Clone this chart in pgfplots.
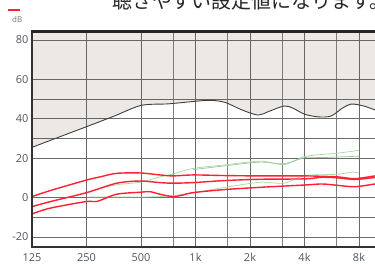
\documentclass[border=0pt]{standalone}
\usepackage{pgfplots}
\pgfplotsset{compat=1.18}
\usepackage{fontspec}
\setmainfont{Open Sans}
\newfontfamily\jp{Noto Sans CJK JP}
\definecolor{fillbase}{RGB}{97,72,55}
\definecolor{rd}{HTML}{FF2036}
\definecolor{gr}{HTML}{A6D8A2}
\definecolor{gridc}{HTML}{6A6A6A}
\definecolor{lbl}{HTML}{505560}
\begin{document}
\begin{tikzpicture}
\fill[white] (0,0) rectangle (375bp,264bp);
% frame grid (octaves, half-octaves above 500 Hz, 10/20 dB lines)
\foreach \gx in {86.5,141,195.5,250,304.5,359}
  \draw[gridc, line width=0.8bp] (\gx bp,17bp) -- (\gx bp,233bp);
\foreach \gx in {172.9,227.4,281.9,336.4}
  \draw[gridc!85, line width=0.7bp] (\gx bp,17bp) -- (\gx bp,233bp);
\foreach \gy in {223.9,184.6,164.9,145.2,125.5,105.8,66.4,46.7,27.0}
  \draw[gridc, line width=0.8bp] (32bp,\gy bp) -- (382bp,\gy bp);
\begin{axis}[
  at={(32bp,17bp)}, anchor=south west,
  scale only axis, width=350bp, height=216bp,
  xmin=0, xmax=6.422, ymin=-25.1, ymax=84.6,
  xtick={0,1,2,3,4,5,6},
  xticklabels={125,250,500,1k,2k,4k,8k},
  ytick={-20,0,20,40,60,80},
  major tick length=0pt, minor tick length=0pt,
  axis line style={line width=1.8bp, black!80},
  ticklabel style={font=\fontsize{11}{12}\selectfont, text=lbl},
  xticklabel style={yshift=-3bp},
  /pgf/number format/assume math mode=true,
]
% octave index x = log2(f/125); shaded region above the black curve
\addplot[fill=fillbase, fill opacity=0.12, draw=none] coordinates {
(0,84.6) (0,25.5) (0.502,30.8) (1,36.0) (1.5,41.3) (2,46.8) (2.25,47.4) (2.5,47.6) (2.75,48.2) (3,48.9)
(3.263,49.4) (3.536,48.4) (3.7,46.6) (3.853,44.5) (4.0,42.8) (4.147,41.9) (4.331,43.6) (4.48,45.6) (4.624,46.5)
(4.789,45.4) (4.9,43.8) (4.996,42.4) (5.12,41.4) (5.248,41.0) (5.485,41.4) (5.6,43.2) (5.700,45.5) (5.858,47.5)
(6.087,46.5) (6.294,44.5) (6.422,43.5) (6.422,84.6)};
\addplot[draw=black!75, line width=0.9bp, smooth] coordinates {
(0,25.5) (0.502,30.8) (1,36.0) (1.5,41.3) (2,46.8) (2.5,47.6) (3,48.9)
(3.263,49.4) (3.536,48.4) (3.853,44.5) (4.147,41.9) (4.331,43.6) (4.624,46.5)
(4.789,45.4) (4.996,42.4) (5.248,41.0) (5.485,41.4) (5.700,45.5) (5.858,47.5)
(6.087,46.5) (6.294,44.5) (6.422,43.5)};
% green series
\addplot[gr, line width=0.7bp, smooth] coordinates {
(1,2.5) (1.189,4.2) (1.554,6.5) (1.980,7.8) (2.349,10.5) (2.585,12) (2.954,14.8)
(3.504,16.5) (4.183,18.5) (4.624,16.8) (5.013,20.9) (5.585,22.5) (6,24)};
\addplot[gr!80!gray, line width=0.7bp, smooth] coordinates {
(2.954,14.2) (3.504,16) (4.183,18) (4.624,17.2) (5.013,20.3) (5.322,20.3) (5.585,20.6) (6,21)};
\addplot[gr, line width=0.7bp, smooth] coordinates {
(1,0.3) (1.980,0.3) (2.349,0.5) (2.585,1) (2.954,2.5) (3.504,5) (4.183,7.8)
(4.624,7.3) (5.013,11.2) (5.585,11.8) (5.907,13) (6,12.2)};
% red series
\addplot[rd, line width=1.4bp, smooth] coordinates {
(0,0.5) (0.329,3.5) (1,8.9) (1.263,10.6) (1.554,12.3) (1.980,12.5) (2.349,11.5)
(2.585,11) (2.954,11.5) (3.504,11.2) (4.183,11) (5.013,11) (5.321,10.8) (5.615,10.5)
(5.927,9.6) (6.294,11) (6.422,11.2)};
\addplot[rd, line width=1.4bp, smooth] coordinates {
(0,-4.6) (0.329,-2.1) (1,2.5) (1.554,7.3) (1.980,8.4) (2.349,7.6) (2.585,7.3)
(2.954,7.6) (3.504,8.6) (4.183,9.3) (5.013,9.5) (5.321,10.3) (5.615,10) (5.927,9.2)
(6.294,10.2) (6.422,10.4)};
\addplot[rd, line width=1.4bp, smooth] coordinates {
(0,-8.3) (0.329,-5.4) (1,-2) (1.189,-2) (1.554,1.7) (1.980,2.7) (2.164,3) (2.349,1.7)
(2.585,0.5) (2.771,1.3) (2.954,2.5) (3.504,4) (4.183,5.2) (5.013,6.4) (5.321,6.9)
(5.615,6.2) (5.927,5.5) (6.294,6.9) (6.422,7.1)};
\end{axis}
\draw[line width=1.8bp, black!80] (32bp,233bp) -- (32bp,17bp) -- (382bp,17bp);
\draw[line width=2.4bp, black!85] (31bp,232.5bp) -- (382bp,232.5bp);
\node[anchor=base west, inner sep=0, font=\fontsize{8}{9}\selectfont, text=lbl!80] at (12bp,241bp) {dB};
\draw[line width=2bp, rd] (8bp,254bp) -- (20bp,254bp);
\node[anchor=base west, inner sep=0, font=\jp\fontsize{20}{20}\selectfont, text=black!85] at (112bp,255.5bp) {聴きやすい設定値になります。};
\pgfresetboundingbox
\path[use as bounding box] (0,0) rectangle (375bp,264bp);
\end{tikzpicture}
\end{document}
